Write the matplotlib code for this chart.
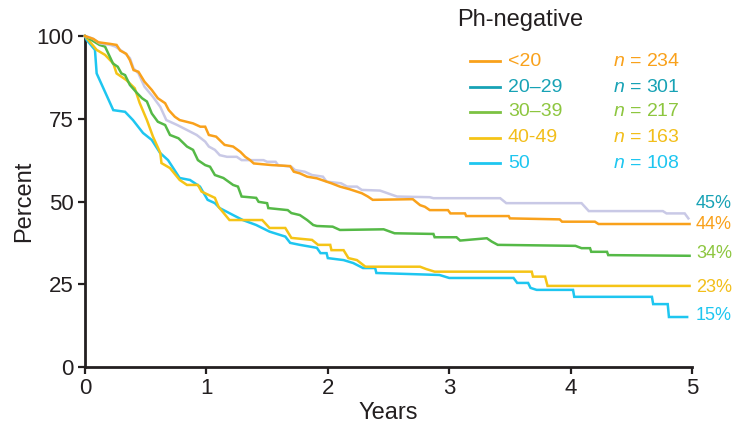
import matplotlib
matplotlib.use("Agg")
import matplotlib.pyplot as plt

plt.rcParams['font.family'] = ['Liberation Sans', 'DejaVu Sans']
plt.rcParams['mathtext.fontset'] = 'custom'
plt.rcParams['mathtext.it'] = 'Liberation Sans:italic'
plt.rcParams['mathtext.rm'] = 'Liberation Sans'

title = "Ph-negative"
groups = ["<20", "20\u201329", "30\u201339", "40-49", "50"]
n_values = [234, 301, 217, 163, 108]
final_labels = ["44%", "45%", "34%", "23%", "15%"]

# <20
t_lt20 = [0, 0.07, 0.11, 0.21, 0.26, 0.29, 0.34, 0.37, 0.40, 0.44, 0.49, 0.55, 0.60, 0.66, 0.69, 0.74, 0.78,
          0.89, 0.95, 0.99, 1.02, 1.08, 1.15, 1.22, 1.28, 1.32, 1.36, 1.39, 1.54, 1.69, 1.72, 1.77, 1.83, 1.91,
          2.03, 2.10, 2.18, 2.28, 2.33, 2.37, 2.70, 2.76, 2.80, 2.84, 2.99, 3.01, 3.13, 3.14, 3.49, 3.50, 3.91,
          3.93, 4.20, 4.23, 4.98]
s_lt20 = [100, 99.1, 98.1, 97.6, 97.3, 95.6, 94.6, 92.7, 89.7, 89.2, 86.2, 83.7, 81.2, 79.7, 77.6, 75.6, 74.6,
          73.6, 72.6, 72.6, 70.1, 69.6, 67.1, 66.6, 65.0, 63.5, 62.5, 61.5, 61.0, 60.7, 59.0, 58.5, 57.5, 57.0,
          55.5, 54.5, 53.7, 52.5, 51.5, 50.5, 50.7, 48.9, 48.4, 47.4, 47.4, 46.4, 46.4, 45.6, 45.6, 44.9, 44.6,
          43.9, 43.9, 43.2, 43.2]

# 20-29
t_2029 = [0, 0.06, 0.12, 0.21, 0.25, 0.29, 0.33, 0.37, 0.40, 0.44, 0.49, 0.56, 0.62, 0.67, 0.76, 0.84, 0.92,
          0.99, 1.02, 1.07, 1.11, 1.17, 1.25, 1.29, 1.47, 1.50, 1.57, 1.59, 1.70, 1.73, 1.81, 1.87, 1.96, 1.99,
          2.11, 2.16, 2.24, 2.28, 2.43, 2.57, 2.84, 2.87, 3.42, 3.47, 4.09, 4.15, 4.76, 4.79, 4.94, 4.97]
s_2029 = [100, 99.3, 97.8, 97.3, 96.8, 95.8, 94.8, 93.3, 90.2, 88.7, 84.7, 81.6, 78.6, 74.6, 73.1, 71.6, 70.1,
          68.1, 66.6, 65.6, 64.0, 63.5, 63.5, 62.5, 62.5, 62.0, 62.0, 61.0, 60.5, 59.5, 59.0, 58.0, 57.5, 56.0,
          55.5, 54.5, 54.5, 53.5, 53.3, 51.5, 51.3, 51.0, 51.0, 49.5, 49.5, 47.1, 47.1, 46.4, 46.4, 44.9]

# 30-39
t_3039 = [0, 0.12, 0.165, 0.21, 0.23, 0.27, 0.30, 0.33, 0.37, 0.43, 0.47, 0.51, 0.55, 0.60, 0.66, 0.70, 0.77,
          0.84, 0.89, 0.93, 0.99, 1.03, 1.07, 1.14, 1.22, 1.26, 1.29, 1.41, 1.43, 1.50, 1.51, 1.67, 1.70, 1.77,
          1.83, 1.88, 1.91, 2.04, 2.10, 2.46, 2.55, 2.87, 2.88, 3.06, 3.09, 3.31, 3.35, 3.40, 4.04, 4.09, 4.16,
          4.17, 4.30, 4.31, 4.98]
s_3039 = [100, 97.3, 96.8, 93.3, 91.7, 90.7, 88.7, 88.2, 85.2, 82.7, 81.2, 80.2, 76.6, 74.1, 73.1, 70.1, 69.1,
          66.6, 65.6, 62.5, 61.0, 60.5, 58.0, 57.1, 55.0, 54.5, 51.5, 51.1, 49.9, 49.5, 48.0, 47.4, 46.5, 45.9,
          44.4, 42.9, 42.6, 42.4, 41.4, 41.6, 40.4, 40.2, 39.2, 39.2, 38.2, 38.9, 37.9, 36.9, 36.6, 35.9, 35.9,
          34.8, 34.8, 33.8, 33.6]

# 40-49
t_4049 = [0, 0.096, 0.165, 0.233, 0.26, 0.34, 0.41, 0.45, 0.51, 0.56, 0.62, 0.63, 0.70, 0.78, 0.84, 0.93, 0.96,
          1.0, 1.07, 1.10, 1.19, 1.46, 1.52, 1.65, 1.70, 1.87, 1.92, 2.02, 2.03, 2.13, 2.17, 2.24, 2.31, 2.76,
          2.81, 2.88, 3.68, 3.69, 3.79, 3.81, 4.98]
s_4049 = [100, 95.8, 94.3, 91.7, 88.7, 86.7, 84.2, 79.8, 74.6, 69.6, 64.7, 61.6, 60.1, 56.5, 55.0, 55.0, 53.0,
          52.3, 51.1, 48.4, 44.4, 44.4, 42.0, 42.0, 39.0, 38.4, 36.9, 36.9, 35.3, 35.3, 32.9, 32.3, 30.3, 30.3,
          29.6, 28.8, 28.8, 27.3, 27.3, 24.5, 24.5]

# 50
t_50 = [0, 0.014, 0.082, 0.096, 0.233, 0.33, 0.395, 0.478, 0.55, 0.618, 0.684, 0.78, 0.865, 0.947, 1.01, 1.07,
        1.11, 1.22, 1.30, 1.41, 1.52, 1.65, 1.69, 1.77, 1.91, 1.94, 1.99, 2.0, 2.13, 2.21, 2.29, 2.39, 2.40,
        2.92, 3.0, 3.53, 3.56, 3.65, 3.67, 3.72, 4.02, 4.03, 4.67, 4.68, 4.80, 4.81, 4.96]
s_50 = [100, 98.8, 95.8, 88.7, 77.6, 77.1, 74.6, 70.7, 68.6, 64.7, 62.5, 57.1, 56.5, 54.5, 50.5, 49.5,
        48.0, 45.9, 44.4, 42.9, 40.9, 39.4, 37.5, 36.9, 36.0, 34.4, 34.4, 32.9, 32.3, 31.4, 29.9, 29.9, 28.4,
        27.8, 26.9, 26.9, 25.4, 25.4, 23.9, 23.3, 23.3, 21.2, 21.2, 19.0, 19.0, 15.1, 15.1]

curves = [(t_lt20, s_lt20), (t_2029, s_2029), (t_3039, s_3039), (t_4049, s_4049), (t_50, s_50)]
line_colors = ["#F9A11B", "#C9C9E6", "#55B947", "#F5C416", "#1EC6F0"]
legend_line_colors = ["#F9A11B", "#17A2B5", "#7CC242", "#F5C416", "#1EC6F0"]
text_colors = ["#F9A11B", "#17A2B5", "#8DC63F", "#F2BE1A", "#1EC6F0"]
final_y_px = [224, 203, 254, 287, 315]

W, H = 733, 425
fig = plt.figure(figsize=(W / 100, H / 100), dpi=100)
def fx(px):
    return px / W
def fy(py):
    return 1 - py / H

ax = fig.add_axes([fx(85), fy(367), fx(692) - fx(85), fy(36) - fy(367)])

order = [4, 3, 2, 1, 0]
for i in order:
    t, s = curves[i]
    ax.plot(t, s, color=line_colors[i], lw=1.8, clip_on=False, solid_joinstyle='miter', zorder=3 + (i == 0))

ax.set_xlim(0, 5)
ax.set_ylim(0, 100)
ax.set_xticks([0, 1, 2, 3, 4, 5])
ax.set_yticks([0, 25, 50, 75, 100])
for sp in ['top', 'right']:
    ax.spines[sp].set_visible(False)
for sp in ['left', 'bottom']:
    ax.spines[sp].set_linewidth(2.0)
    ax.spines[sp].set_color('#231F20')
ax.tick_params(axis='both', direction='out', length=5, width=1.6, color='#231F20',
               labelsize=16, labelcolor='#231F20', pad=3)
ax.set_xlabel("Years", fontsize=17, color='#231F20', labelpad=2)
ax.set_ylabel("Percent", fontsize=17, color='#231F20', labelpad=1)

fig.text(fx(520), fy(20), title, fontsize=17, color='#231F20', ha='center', va='center')

leg_y = [61, 87, 112, 138, 163]
for i in range(5):
    y = fy(leg_y[i])
    fig.add_artist(plt.Line2D([fx(470), fx(500)], [y, y], color=legend_line_colors[i], lw=2.0,
                              transform=fig.transFigure))
    fig.text(fx(508), y, groups[i], fontsize=14, color=text_colors[i], ha='left', va='center')
    fig.text(fx(613), y, r"$\it{n}$ = " + str(n_values[i]), fontsize=14, color=text_colors[i],
             ha='left', va='center')

for i in range(5):
    fig.text(fx(696), fy(final_y_px[i]), final_labels[i], fontsize=13, color=text_colors[i],
             ha='left', va='center')

fig.savefig("out.png", dpi=100)
